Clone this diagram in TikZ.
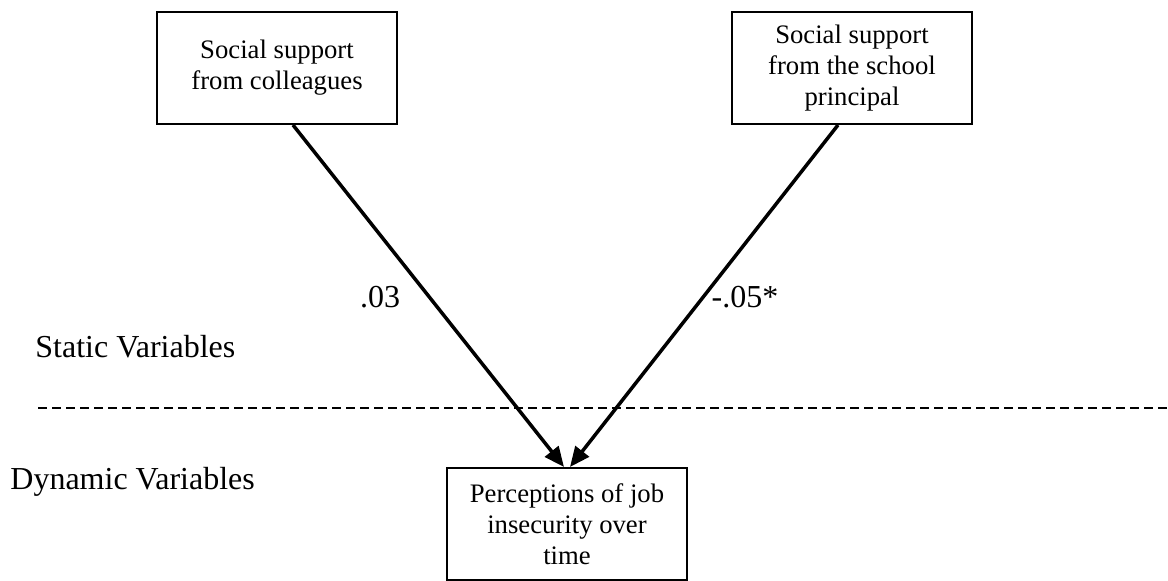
\documentclass[tikz,border=0pt]{standalone}
\usepackage{fontspec}
\setmainfont{Liberation Serif}
\usetikzlibrary{arrows.meta,calc}
\begin{document}
\begin{tikzpicture}[x=0.5pt,y=-0.5pt,
  box/.style={draw, line width=1pt, minimum width=120pt, minimum height=56pt,
    align=center, inner sep=0pt, font=\fontsize{13.35}{15.4}\selectfont},
  lbl/.style={inner sep=0pt, font=\fontsize{16}{19}\selectfont},
  link/.style={line width=1.75pt, -{Triangle[length=10pt,width=8.5pt]}},
  divider/.style={line width=1.25pt, dash pattern=on 4.5pt off 2.5pt}]
\useasboundingbox (0,0) rectangle (1168,581);
\node[box] (L) at (277,68) {Social support\\from colleagues};
\node[box] (R) at (852,68) {Social support\\from the school\\principal};
\node[box] (B) at (567,524) {Perceptions of job\\insecurity over\\time};
\draw[link] ($(L.south)+(16,0)$) -- ($(B.north)+(-3,0)$);
\draw[link] ($(R.south)+(-14,0)$) -- ($(B.north)+(3,0)$);
\node[lbl, anchor=base] (c1) at (380,308) {.03};
\node[lbl, anchor=base] (c2) at (745,308) {-.05*};
\node[lbl, anchor=base west] (sv) at (35,358) {Static Variables};
\node[lbl, anchor=base west] (dv) at (10,490) {Dynamic Variables};
\coordinate (d1) at (38,408);
\coordinate (d2) at (1168,408);
\draw[divider] (d1) -- (d2);
\end{tikzpicture}
\end{document}
